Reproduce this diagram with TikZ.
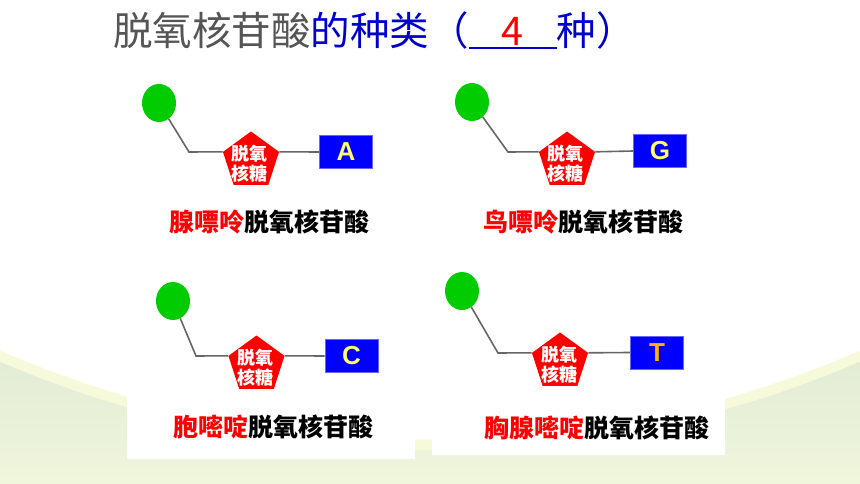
\documentclass[tikz,border=0pt]{standalone}
\usepackage{fontspec}
\setmainfont{Noto Sans CJK SC}
\newfontfamily\latinbold[BoldFont={Liberation Sans Bold}]{Liberation Sans}
\usetikzlibrary{shapes.geometric}
\definecolor{titlegray}{HTML}{555555}
\definecolor{titleblue}{HTML}{0000CC}
\definecolor{phos}{HTML}{00CC00}
\definecolor{sugar}{HTML}{FF0000}
\definecolor{basefill}{HTML}{0000FF}
\definecolor{baseedge}{HTML}{6666FF}
\definecolor{linkgray}{HTML}{666666}
\definecolor{letteryellow}{HTML}{FFFF66}
\definecolor{letterorange}{HTML}{FFB300}
\definecolor{bgtop}{HTML}{E1EAD4}
\definecolor{bgbottom}{HTML}{EFF6DC}
\definecolor{bgband}{HTML}{F7FADA}
\begin{document}
\begin{tikzpicture}[x=1pt,y=-1pt,
  phosnode/.style={ellipse, fill=phos, minimum width=34pt, minimum height=38pt, inner sep=0pt},
  sugarnode/.style={regular polygon, regular polygon sides=5, fill=sugar, minimum size=59pt, inner sep=0pt},
  sugartext/.style={text=white, font=\fontsize{18}{20.5}\selectfont\bfseries, align=center, inner sep=0pt},
  basenode/.style={fill=basefill, draw=baseedge, line width=0.6pt, minimum width=53pt, minimum height=33pt, inner sep=0pt, font=\latinbold\bfseries\fontsize{26}{28}\selectfont},
  link/.style={draw=linkgray, line width=1.6pt},
  namenode/.style={font=\fontsize{25}{28}\selectfont\bfseries, inner sep=0pt},
  panel/.style={fill=white, draw=none}
]
\useasboundingbox (0,0) rectangle (860,484);
% background
\begin{scope}
  \clip (0,0) rectangle (860,484);
  \fill[white] (0,0) rectangle (860,484);
  \shade[top color=bgtop, bottom color=bgbottom] (0,340) rectangle (860,484);
  \fill[bgband] (430,-636) circle (1086pt);
  \fill[white] (430,-636) circle (1075.7pt);
\end{scope}
\fill[panel] (127,250) rectangle (415,459);
\fill[panel] (432,250) rectangle (725,455);
% title
\node[anchor=west, inner sep=0pt, font=\fontsize{39.5}{44}\selectfont] (title) at (113,30)
  {\textcolor{titlegray}{脱氧核苷酸}\textcolor{titleblue}{的种类（\makebox[0pt][l]{\rule[-3.5pt]{88pt}{1.6pt}}\makebox[88pt]{\textcolor{red}{4}}种）}};
% group 1
\node[phosnode] (p1) at (159,103) {};
\coordinate (e1) at (189,152);
\node[sugarnode] (s1) at (251,161) {};
\node[sugartext] (t1) at (249,163.5) {脱氧\\核糖};
\node[basenode, text=letteryellow] (b1) at (346,152) {A};
\draw[link] (p1) -- (e1) -- (s1.corner 2);
\draw[link] (s1.corner 5) -- (b1.west);
\node[namenode] (n1) at (269,222) {\textcolor{red}{腺嘌呤}脱氧核苷酸};
% group 2
\node[phosnode] (p2) at (472,102) {};
\coordinate (e2) at (508,152);
\node[sugarnode] (s2) at (567,161) {};
\node[sugartext] (t2) at (565.5,163.5) {脱氧\\核糖};
\node[basenode, text=letteryellow] (b2) at (660,151) {G};
\draw[link] (p2) -- (e2) -- (s2.corner 2);
\draw[link] (s2.corner 5) -- (b2.west);
\node[namenode] (n2) at (583,222) {\textcolor{red}{鸟嘌呤}脱氧核苷酸};
% group 3
\node[phosnode] (p3) at (173,301) {};
\coordinate (e3) at (196,356);
\node[sugarnode] (s3) at (256.5,365) {};
\node[sugartext] (t3) at (255,367.5) {脱氧\\核糖};
\node[basenode, text=letteryellow] (b3) at (351.5,356) {C};
\draw[link] (p3) -- (e3) -- (s3.corner 2);
\draw[link] (s3.corner 5) -- (b3.west);
\node[namenode] (n3) at (273,427) {\textcolor{red}{胞嘧啶}脱氧核苷酸};
% group 4
\node[phosnode] (p4) at (462,291) {};
\coordinate (e4) at (498,353);
\node[sugarnode] (s4) at (560,362) {};
\node[sugartext] (t4) at (559.5,364.5) {脱氧\\核糖};
\node[basenode, text=letterorange] (b4) at (657,352.5) {T};
\draw[link] (p4) -- (e4) -- (s4.corner 2);
\draw[link] (s4.corner 5) -- (b4.west);
\node[namenode] (n4) at (597,428) {\textcolor{red}{胸腺嘧啶}脱氧核苷酸};
\end{tikzpicture}
\end{document}
